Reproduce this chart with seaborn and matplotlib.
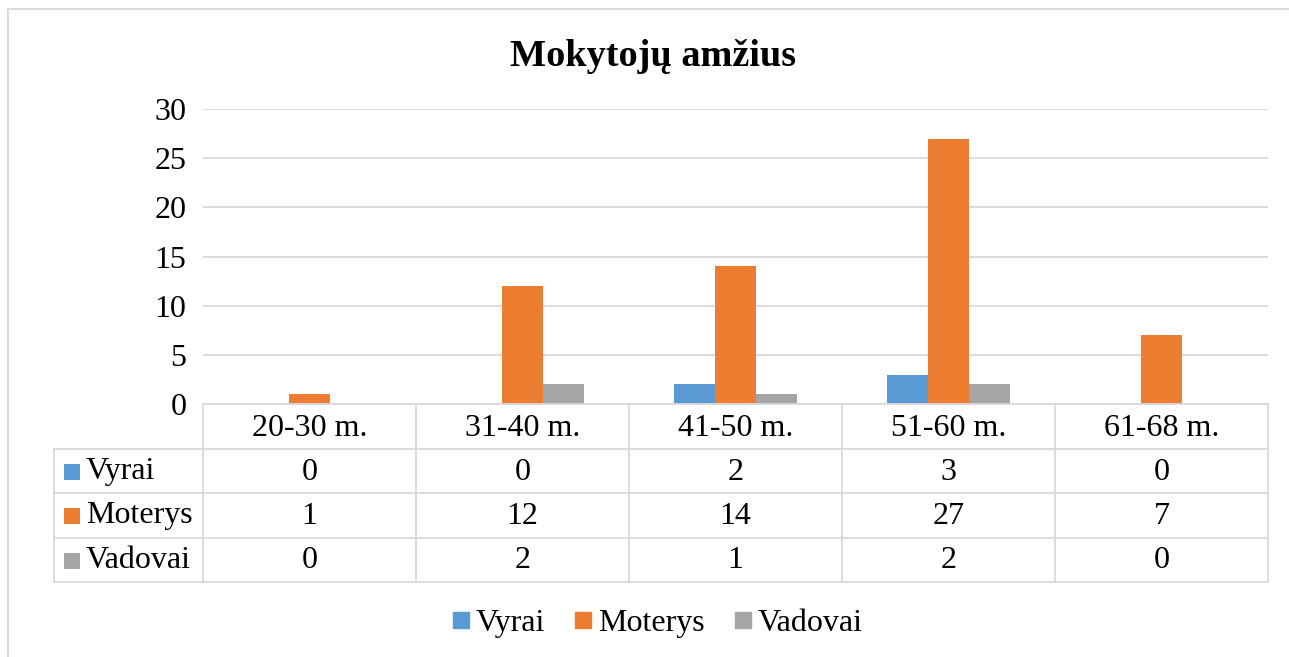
import numpy as np
import pandas as pd
import seaborn as sns
import matplotlib.pyplot as plt
from matplotlib import transforms
from matplotlib.patches import Rectangle
from matplotlib.lines import Line2D

# Data
categories = ['20-30 m.', '31-40 m.', '41-50 m.', '51-60 m.', '61-68 m.']
series = ['Vyrai', 'Moterys', 'Vadovai']
vyrai = [0, 0, 2, 3, 0]
moterys = [1, 12, 14, 27, 7]
vadovai = [0, 2, 1, 2, 0]
colors = ['#5B9BD5', '#ED7D31', '#A5A5A5']
title = 'Mokytojų amžius'

W, H = 1289, 657
GRID = '#D9D9D9'
FS = 23

sns.set_theme(style='white')
plt.rcParams['font.family'] = ['Liberation Serif', 'DejaVu Serif']
plt.rcParams['text.color'] = 'black'
plt.rcParams['ytick.color'] = 'black'

df = pd.DataFrame({
    'amzius': categories * len(series),
    'grupe': [s for s in series for _ in categories],
    'kiekis': vyrai + moterys + vadovai,
})
rows = {'Vyrai': vyrai, 'Moterys': moterys, 'Vadovai': vadovai}


def fy(p):
    # pixel row -> figure fraction
    return 1 - p / H


fig = plt.figure(figsize=(W / 100, H / 100), dpi=100)
ax = fig.add_axes([203 / W, fy(404), (1268 - 203) / W, (404 - 109) / H])

sns.barplot(data=df, x='amzius', y='kiekis', hue='grupe', order=categories,
            hue_order=series, palette=colors, width=0.58, gap=0,
            saturation=1, errorbar=None, linewidth=0, legend=False, ax=ax)

ax.set_xlim(-0.5, 4.5)
ax.set_ylim(0, 30)
ax.set_yticks(range(0, 31, 5))
ax.set_xticks([])
ax.set_xlabel('')
ax.set_ylabel('')
ax.grid(axis='y', color=GRID, lw=1.3)
ax.set_axisbelow(True)
for side in ['top', 'right', 'left', 'bottom']:
    ax.spines[side].set_visible(False)
ax.tick_params(axis='y', length=0, pad=12, labelsize=FS, labelcolor='black')

# data table below the plot
bt = transforms.blended_transform_factory(ax.transData, fig.transFigure)
tab_left = -1.2
line_kw = dict(color=GRID, lw=1.3, transform=bt, clip_on=False)
ax.plot([-0.5, 4.5], [fy(404), fy(404)], **line_kw)
for p in [449, 493, 538, 582]:
    ax.plot([tab_left, 4.5], [fy(p), fy(p)], **line_kw)
for i in range(6):
    ax.plot([i - 0.5, i - 0.5], [fy(404), fy(582)], **line_kw)
ax.plot([tab_left, tab_left], [fy(449), fy(582)], **line_kw)

for i, c in enumerate(categories):
    ax.text(i, fy(428), c, ha='center', va='center', fontsize=FS, transform=bt)

row_y = [472, 516, 561]
for (name, vals), col, py in zip(rows.items(), colors, row_y):
    fig.add_artist(Rectangle((64 / W, fy(py + 8)), 16 / W, 16 / H,
                             transform=fig.transFigure, color=col, lw=0))
    fig.text(86 / W, fy(py), name, ha='left', va='center', fontsize=FS)
    for i, v in enumerate(vals):
        ax.text(i, fy(py), str(v), ha='center', va='center', fontsize=FS,
                transform=bt)

# legend
handles = [Line2D([], [], marker='s', ls='', color=c, markersize=12)
           for c in colors]
fig.legend(handles=handles, labels=series, loc='center',
           bbox_to_anchor=(657 / W, fy(623)), ncol=3, frameon=False,
           fontsize=FS, handletextpad=0.15, columnspacing=0.9,
           handlelength=0.6)

fig.text(653 / W, fy(56), title, ha='center', va='center', fontsize=27.5,
         fontweight='bold')

# chart border
fig.add_artist(Rectangle((8 / W, -0.05), 1.1, fy(9) + 0.05,
                         transform=fig.transFigure, fill=False,
                         edgecolor=GRID, lw=1.3))

fig.savefig('out.png', dpi=100)
